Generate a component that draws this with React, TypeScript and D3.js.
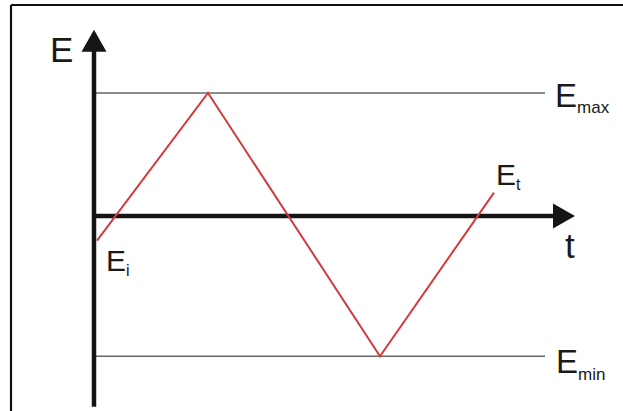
import React from "react";
import * as d3 from "d3";

// Triangular potential sweep E(t)
const sweepTimes = [0.03, 1.14, 2.86, 4.0];
const sweepPotentials = [-0.2, 1.0, -1.14, 0.19];

const E_MAX = 1.0;
const E_MIN = -1.14;
const refLineEnd = 4.51;
const axisTEnd = 4.81;
const axisEMin = -1.55;
const axisEMax = 1.515;

const W = 623;
const H = 411;

export default function App() {
  const x = d3.scaleLinear().domain([0, 1]).range([94, 194]);
  const y = d3.scaleLinear().domain([0, 1]).range([216, 93]);

  const line = d3
    .line<number>()
    .x((_, i) => x(sweepTimes[i]))
    .y((d) => y(d));

  const ax0 = x(0);
  const ay0 = y(0);
  const tipX = x(axisTEnd);
  const tipY = y(axisEMax);
  const arrowLen = 22;
  const arrowHalf = 12.5;
  const font = "'Liberation Sans', Arial, sans-serif";

  return (
    <svg
      width={W}
      height={H}
      style={{ position: "absolute", left: 0, top: 0, background: "#fff" }}
    >
      {/* frame */}
      <line x1={11} y1={5} x2={W} y2={5} stroke="#111" strokeWidth={2.2} />
      <line x1={11} y1={5} x2={11} y2={H} stroke="#111" strokeWidth={2.2} />

      {/* reference lines */}
      <line x1={ax0} x2={x(refLineEnd)} y1={y(E_MAX)} y2={y(E_MAX)} stroke="#666" strokeWidth={1.5} />
      <line x1={ax0} x2={x(refLineEnd)} y1={y(E_MIN)} y2={y(E_MIN)} stroke="#666" strokeWidth={1.5} />

      {/* axes */}
      <line x1={ax0} x2={ax0} y1={y(axisEMin)} y2={tipY + arrowLen - 1} stroke="#151515" strokeWidth={4.5} />
      <polygon
        points={`${ax0},${tipY} ${ax0 - arrowHalf},${tipY + arrowLen} ${ax0 + arrowHalf},${tipY + arrowLen}`}
        fill="#151515"
      />
      <line x1={ax0 - 2} x2={tipX - arrowLen + 1} y1={ay0} y2={ay0} stroke="#151515" strokeWidth={4.5} />
      <polygon
        points={`${tipX},${ay0} ${tipX - arrowLen},${ay0 - arrowHalf} ${tipX - arrowLen},${ay0 + arrowHalf}`}
        fill="#151515"
      />

      {/* sweep */}
      <path d={line(sweepPotentials) || ""} fill="none" stroke="#d43a3a" strokeWidth={2} />

      {/* labels */}
      <g fontFamily={font} fill="#1a1a1a">
        <text x={50} y={62} fontSize={35}>E</text>
        <text x={565} y={258} fontSize={35}>t</text>
        <text x={555} y={107} fontSize={33}>
          E<tspan fontSize={17} dy={6}>max</tspan>
        </text>
        <text x={556} y={373} fontSize={33}>
          E<tspan fontSize={17} dy={7}>min</tspan>
        </text>
        <text x={106} y={271} fontSize={30}>
          E<tspan fontSize={16} dy={5}>i</tspan>
        </text>
        <text x={496} y={185} fontSize={30}>
          E<tspan fontSize={16} dy={5}>t</tspan>
        </text>
      </g>
    </svg>
  );
}
